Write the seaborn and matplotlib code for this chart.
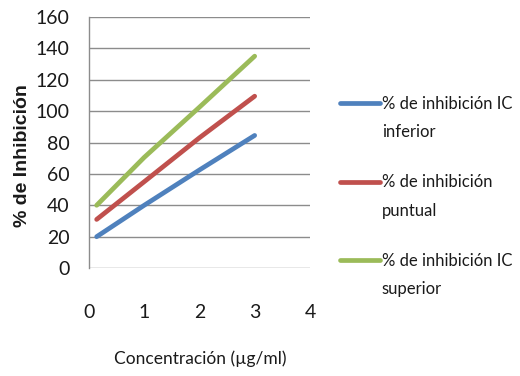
import matplotlib
matplotlib.use("Agg")
import matplotlib.pyplot as plt
from matplotlib.legend_handler import HandlerLine2D
from matplotlib.lines import Line2D
import seaborn as sns
import pandas as pd

conc = [0.14, 1, 2, 3]
ic_inferior = [20, 40, 62.5, 84.5]
puntual = [31, 55, 83, 109.5]
ic_superior = [40, 70.5, 102.5, 135]
series_names = ["% de inhibición IC\ninferior", "% de inhibición\npuntual", "% de inhibición IC\nsuperior"]
colors = ["#4F81BD", "#C0504D", "#9BBB59"]
y_ticks = [0, 20, 40, 60, 80, 100, 120, 140, 160]
x_ticks = [0, 1, 2, 3, 4]

rows = []
for name, vals in zip(series_names, [ic_inferior, puntual, ic_superior]):
    for x, y in zip(conc, vals):
        rows.append({"x": x, "y": y, "serie": name})
df = pd.DataFrame(rows)

sns.set_style("white")
plt.rcParams['font.family'] = ['Lato', 'DejaVu Sans']

fig = plt.figure(figsize=(5.2, 3.76), dpi=100)
ax = fig.add_axes([0.171, 0.287, 0.425, 0.668])
sns.lineplot(data=df, x="x", y="y", hue="serie", palette=colors, linewidth=3.4,
             ax=ax, legend=False)

ax.set_xlim(0, 4)
ax.set_ylim(0, 160)
ax.set_xticks(x_ticks)
ax.set_yticks(y_ticks)
ax.tick_params(axis='both', length=0, labelsize=14, colors='#1a1a1a')
ax.tick_params(axis='x', pad=26)
ax.tick_params(axis='y', pad=14)
ax.grid(axis='y', color='#8c8c8c', linewidth=1)
for s in ['top', 'right', 'bottom']:
    ax.spines[s].set_visible(False)
ax.spines['left'].set_color('#8c8c8c')
ax.spines['left'].set_linewidth(1)

ax.set_xlabel("Concentración (µg/ml)", fontsize=12.5, color='#1a1a1a')
ax.xaxis.set_label_coords(0.502, -0.362)
ax.xaxis.label.set_va('center')
ax.set_ylabel("% de Inhibición", fontsize=14, fontweight='bold',
              family=['Liberation Sans', 'DejaVu Sans'], color='#1a1a1a')
ax.yaxis.set_label_coords(-0.299, 0.448)
ax.yaxis.label.set_va('center')


class TopLine(HandlerLine2D):
    def create_artists(self, legend, orig_handle, xdescent, ydescent, width,
                       height, fontsize, trans):
        arts = super().create_artists(legend, orig_handle, xdescent, ydescent,
                                      width, height, fontsize, trans)
        for a in arts:
            yd = a.get_ydata()
            a.set_ydata([v + 11 for v in yd])
        return arts


handles = [Line2D([], [], color=c, linewidth=3.4) for c in colors]
leg = fig.legend(handles, series_names, loc='upper left', bbox_to_anchor=(0.625, 0.785),
                 frameon=False, fontsize=12, handlelength=2.4, handletextpad=0.1,
                 labelspacing=2.05, labelcolor='#1a1a1a',
                 handler_map={Line2D: TopLine()})
for t in leg.get_texts():
    t.set_linespacing(1.95)

fig.savefig("out.png", dpi=100)
